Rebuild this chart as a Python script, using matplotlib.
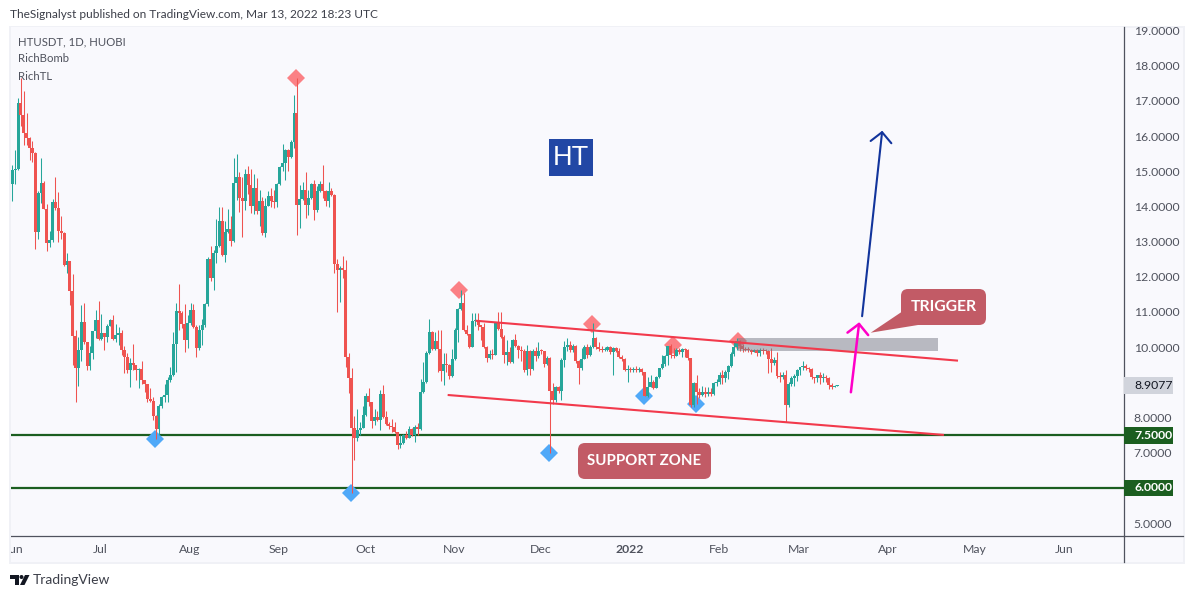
import matplotlib
matplotlib.use('Agg')
import matplotlib.pyplot as plt
import numpy as np
from matplotlib.patches import Rectangle, FancyBboxPatch, Polygon, Circle
from matplotlib.transforms import Affine2D, blended_transform_factory

plt.rcParams['font.family'] = ['Lato', 'DejaVu Sans']

# daily candles from 2021-06-01, each open is the previous close
first_open = 14.64
close = [15.03,15.06,16.94,16.6,16.09,15.94,15.66,15.52,13.27,14.38,
    14.66,13.93,12.96,13.05,14.12,13.95,13.30,13.24,12.34,12.45,
    11.6,10.32,9.41,9.92,10.72,10.15,9.47,9.84,10.46,10.77,
    10.23,10.4,10.29,10.6,10.77,10.23,10.35,10.4,9.92,9.72,
    9.35,9.55,9.49,9.35,9.38,9.07,8.95,8.53,8.47,8.05,
    7.68,8.33,8.59,8.64,9.07,9.21,10.09,11.03,10.97,10.66,
    10.2,10.69,11.06,10.57,9.98,10.49,10.63,11.23,12.51,11.97,
    12.68,12.88,13.59,12.62,13.27,13.36,13.02,14.66,14.84,14.24,
    14.15,14.92,14.61,14.01,14.52,13.87,14.15,13.24,14.01,14.3,
    14.15,14.12,14.64,15.12,15.23,15.6,15.4,15.83,16.65,14.04,
    14.21,14.47,14.04,14.24,14.64,13.9,14.44,14.64,14.44,14.15,
    14.44,14.32,12.36,12.2,12.25,12.19,9.72,9.13,7.7,7.42,
    7.65,7.7,8.07,8.61,8.44,7.9,8.02,7.93,8.67,8.02,
    7.82,7.76,7.74,7.59,7.22,7.28,7.5,7.42,7.68,7.5,
    7.73,7.68,8.73,9.01,9.84,10.43,9.95,10.18,9.95,9.32,
    9.52,9.5,9.18,9.66,10.49,11.09,11.26,10.49,10.38,10.0,
    10.74,10.77,10.63,10.58,10.0,9.69,9.81,9.78,10.69,10.52,
    10.29,9.78,9.86,9.58,10.2,10.03,9.92,9.9,9.36,9.9,
    9.38,9.88,9.75,9.9,9.88,9.52,9.69,8.76,8.5,8.87,
    8.76,9.64,10.0,10.05,9.92,10.04,9.6,9.41,9.66,10.0,
    9.78,10.0,10.25,10.01,9.94,9.92,9.92,10.0,9.87,9.97,
    9.89,9.73,9.67,9.35,9.38,9.35,9.38,9.35,9.37,9.29,
    8.61,8.88,9.02,8.83,9.14,9.4,9.51,9.75,10.03,9.78,
    9.76,9.92,9.85,9.94,9.92,9.68,8.36,8.97,8.74,8.64,
    8.72,8.66,8.72,8.68,8.97,9.02,9.21,9.12,9.3,9.46,
    9.81,10.01,10.18,10.02,9.94,9.93,9.92,9.87,9.92,9.83,
    9.92,9.89,9.88,9.67,9.54,9.64,9.18,9.16,9.21,8.36,
    8.95,9.12,9.18,9.35,9.43,9.46,9.42,9.37,9.14,9.13,
    9.2,9.12,9.14,9.12,8.93,8.87,8.9,8.9077]
high = [15.18,15.6,17.08,17.65,17.28,16.65,15.97,15.86,15.55,14.44,
    15.38,14.72,14.07,13.3,14.21,14.84,14.41,13.73,13.27,12.68,
    12.45,12.08,10.49,10.29,11.2,11.26,10.15,10.03,10.46,11.06,
    11.31,10.94,10.4,10.66,10.8,10.91,10.66,10.57,10.49,10.03,
    9.84,9.69,10.09,9.49,9.4,9.61,9.07,8.95,8.84,8.59,
    8.08,8.39,8.61,8.95,9.15,9.44,10.43,11.26,11.8,11.03,
    11.23,10.91,11.26,11.23,10.63,10.63,10.8,11.26,12.56,12.88,
    12.76,13.64,13.98,13.98,13.59,13.93,13.73,15.38,15.49,14.98,
    14.84,15.06,15.15,15.06,14.92,14.81,14.47,14.27,14.24,14.44,
    14.52,14.47,14.66,15.15,15.77,15.62,15.62,15.89,17.16,17.65,
    14.61,14.69,14.98,14.47,14.66,14.75,14.58,14.72,15.18,14.47,
    14.69,14.52,14.34,12.51,12.31,12.59,12.48,9.84,9.41,8.05,
    8.24,7.88,8.33,8.7,8.84,8.44,8.24,8.19,8.78,8.93,
    8.19,7.88,7.96,7.88,7.59,7.5,7.53,7.62,7.76,7.7,
    7.79,7.85,9.1,9.58,9.89,10.8,10.46,10.43,10.49,10.49,
    9.84,9.84,9.52,9.95,10.55,11.12,11.63,11.54,10.63,10.38,
    10.97,10.97,10.97,10.63,10.69,10.03,9.92,9.95,10.7,11.0,
    11.0,10.35,10.2,10.0,10.22,10.38,10.05,10.02,9.95,10.05,
    9.92,9.95,10.0,10.15,9.95,9.9,9.75,9.72,8.98,8.9,
    8.9,9.7,10.18,10.25,10.18,10.1,10.05,9.65,9.99,10.07,
    10.08,10.06,10.68,10.3,10.15,10.02,10.01,10.03,10.03,10.0,
    10.0,9.99,9.78,9.7,9.5,9.44,9.45,9.47,9.43,9.42,
    9.3,9.16,9.21,9.07,9.17,9.42,9.78,9.78,10.03,10.1,
    9.98,9.97,9.97,9.97,9.97,9.95,9.7,9.0,9.21,8.85,
    8.9,8.86,8.88,8.85,9.02,9.1,9.3,9.35,9.36,9.5,
    9.87,10.16,10.25,10.2,10.08,10.0,10.0,9.95,9.96,9.95,
    9.97,9.98,9.95,9.92,9.97,9.72,9.87,9.3,9.3,9.35,
    9.0,9.17,9.25,9.38,9.45,9.6,9.52,9.45,9.4,9.15,
    9.22,9.3,9.28,9.2,9.15,8.98,8.92,8.92]
low = [14.15,14.65,15.03,16.28,15.74,15.74,15.32,15.26,12.79,13.07,
    14.1,13.93,12.73,12.85,12.99,13.9,12.99,13.07,12.3,12.11,
    11.2,9.49,8.44,8.9,9.6,10.1,9.35,9.35,9.66,10.26,
    10.2,10.2,9.92,10.15,10.6,10.2,10.15,10.06,9.78,9.27,
    9.27,8.87,9.35,9.07,8.84,8.95,8.73,8.44,8.44,7.93,
    7.39,7.51,8.27,8.44,8.44,9.01,9.18,9.3,10.5,10.55,
    9.86,9.98,10.63,10.55,9.72,9.92,10.06,10.57,11.17,11.88,
    11.63,12.39,12.85,12.6,12.42,13.24,12.88,13.0,14.18,13.84,
    13.13,13.9,14.35,13.81,13.78,13.78,13.44,13.19,13.13,14.0,
    13.98,13.95,13.98,14.61,15.0,14.75,15.0,15.37,15.66,13.19,
    13.39,14.18,13.67,13.76,14.21,13.61,13.84,14.41,14.24,14.01,
    13.98,14.3,12.11,11.0,11.28,11.97,9.44,8.7,5.86,6.8,
    7.34,7.5,7.7,8.05,8.33,7.7,7.79,7.9,7.65,8.0,
    7.8,7.68,7.59,7.57,7.11,7.14,7.26,7.4,7.42,7.48,
    7.31,7.5,7.66,8.7,8.98,9.8,9.93,9.93,9.3,9.04,
    8.93,9.3,9.1,9.15,9.64,10.15,11.06,10.47,10.35,9.98,
    10.0,10.6,10.49,10.2,9.98,9.58,9.66,9.66,9.78,10.5,
    10.27,9.55,9.49,9.56,9.55,10.0,9.7,9.6,9.3,9.21,
    9.21,9.35,9.6,9.7,9.8,9.45,9.5,7.0,8.4,8.44,
    8.7,8.5,9.45,9.9,9.85,9.85,9.55,8.95,9.35,9.66,
    9.7,9.75,9.98,9.95,9.88,9.85,9.88,9.88,9.82,9.21,
    9.85,9.68,9.6,9.33,9.0,9.3,9.3,9.3,9.3,9.22,
    8.6,8.58,8.88,8.8,8.83,9.12,9.38,9.48,9.49,9.7,
    9.7,9.75,9.8,9.72,9.73,9.65,8.3,8.3,8.4,8.55,
    8.6,8.58,8.62,8.62,8.65,8.9,8.95,8.95,9.0,9.1,
    9.44,9.75,9.92,9.9,9.85,9.88,9.85,9.82,9.85,9.75,
    9.75,9.8,9.82,9.26,9.3,9.5,9.12,9.02,9.1,7.88,
    8.3,8.9,8.9,9.05,9.2,9.35,9.35,9.3,9.1,8.97,
    9.0,8.95,9.0,9.0,8.8,8.82,8.86,8.89]

# days counted from 2021-06-01
month_days = [0.7,30.7,61.7,92.7,122.7,153.7,183.7,214.7,245.7,273.7,304.7,334.7,366]
month_labels = ['Jun','Jul','Aug','Sep','Oct','Nov','Dec','2022','Feb','Mar','Apr','May','Jun']
price_ticks = [5,6,7,8,9,10,11,12,13,14,15,16,17,18,19]

top_days = [98.7,155.5,201.6,229.8,252.4]
top_prices = [17.65,11.63,10.66,10.06,10.18]
bottom_days = [49.6,117.8,186.7,219.7,237.8]
bottom_prices = [7.39,5.86,6.99,8.61,8.39]

upper_line_x = [161.5,328.6]
upper_line_y = [10.75,9.62]
lower_line_x = [151.8,323.7]
lower_line_y = [8.64,7.51]
levels = [7.5,6.0]
zone_x = [252.4,322.0]
zone_y = [9.89,10.26]
pink_arrow_x = [291.7,294.6]
pink_arrow_y = [8.72,10.71]
blue_arrow_x = [295.6,302.6]
blue_arrow_y = [10.88,16.15]

green = '#26a69a'
red = '#ef5350'
grey_text = '#50535e'
dark_green = '#1b5e20'
label_red = '#c25b66'

# pixel coordinates of the picture, y going down
px = Affine2D().scale(1,-1).translate(0,598)

fig = plt.figure(figsize=(11.94,5.98), dpi=100, facecolor='white')
ax = fig.add_axes([11/1194,(598-536)/598,1113/1194,509/598])
ax.set_facecolor('#f9f9fd')
ax.set_xlim(-0.45,386.7)
ax.set_ylim(4.636,19.097)

# panel behind and around the axes
fig.add_artist(Rectangle((9,26),1176,538,transform=px,fc='#f0f1f6',ec='none',zorder=-2))
fig.add_artist(Rectangle((1124,28),59,534,transform=px,fc='#f9f9fd',ec='none',zorder=-1))
fig.add_artist(Rectangle((11,536),1172,26,transform=px,fc='#f9f9fd',ec='none',zorder=-1))

days = np.arange(len(close))
closes = np.array(close)
opens = np.concatenate(([first_open],closes[:-1]))
highs = np.array(high)
lows = np.array(low)
up = closes >= opens

for level in levels:
    ax.axhline(level,color=dark_green,lw=1.6,zorder=2)

ax.plot(top_days,top_prices,'D',color='#fb8085',ms=9.4,mew=0,zorder=2.5)
ax.plot(bottom_days,bottom_prices,'D',color='#50a9f8',ms=9.4,mew=0,zorder=2.5)

ax.vlines(days[up],lows[up],highs[up],color=green,lw=0.75,capstyle='butt',zorder=3)
ax.vlines(days[~up],lows[~up],highs[~up],color=red,lw=0.75,capstyle='butt',zorder=3.1)
body = np.maximum(np.abs(closes-opens),0.03)
ax.bar(days[up],body[up],bottom=np.minimum(opens,closes)[up],width=1.04,color=green,zorder=3.2)
ax.bar(days[~up],body[~up],bottom=np.minimum(opens,closes)[~up],width=1.04,color=red,zorder=3.3)

ax.add_patch(Rectangle((zone_x[0],zone_y[0]),zone_x[1]-zone_x[0],zone_y[1]-zone_y[0],
    fc='#787b86',alpha=0.5,ec='none',zorder=4))
ax.plot(upper_line_x,upper_line_y,color='#f23a4c',lw=1.5,zorder=5)
ax.plot(lower_line_x,lower_line_y,color='#f23a4c',lw=1.5,zorder=5)

ax.annotate('',xy=(pink_arrow_x[1],pink_arrow_y[1]),xytext=(pink_arrow_x[0],pink_arrow_y[0]),zorder=6,
    arrowprops=dict(arrowstyle='->,head_length=0.72,head_width=0.75',color='#ff00c8',lw=1.8,
        shrinkA=0,shrinkB=0,mutation_scale=10))
ax.annotate('',xy=(blue_arrow_x[1],blue_arrow_y[1]),xytext=(blue_arrow_x[0],blue_arrow_y[0]),zorder=6,
    arrowprops=dict(arrowstyle='->,head_length=0.72,head_width=0.75',color='#12349c',lw=1.5,
        shrinkA=0,shrinkB=0,mutation_scale=10))

# text boxes drawn on the chart
ax.add_patch(FancyBboxPatch((584,449),121,24,boxstyle='round,pad=6,rounding_size=7',transform=px,
    fc=label_red,ec='none',zorder=7))
ax.text(644.5,461,'SUPPORT ZONE',transform=px,color='white',fontsize=10.8,fontweight='bold',
    ha='center',va='center',zorder=8)
ax.add_patch(FancyBboxPatch((907,295),73,24,boxstyle='round,pad=6,rounding_size=7',transform=px,
    fc=label_red,ec='none',zorder=7))
ax.add_patch(Polygon([(870.7,332.7),(903,311),(918,325)],closed=True,transform=px,
    fc=label_red,ec='none',zorder=7))
ax.text(943.5,307,'TRIGGER',transform=px,color='white',fontsize=11.3,fontweight='bold',
    ha='center',va='center',zorder=8)
ax.add_patch(Rectangle((549,139),44,37,transform=px,fc='#2247a5',ec='none',zorder=7))
ax.text(571,158,'HT',transform=px,color='white',fontsize=19.5,family='Liberation Sans',
    ha='center',va='center',zorder=8)

# axes look
for side in ['left','top']:
    ax.spines[side].set_visible(False)
ax.spines['right'].set_color(grey_text)
ax.spines['bottom'].set_color(grey_text)
ax.spines['right'].set_linewidth(0.9)
ax.spines['bottom'].set_linewidth(0.9)
ax.set_xticks(month_days)
ax.set_xticklabels(month_labels,fontsize=8.8,color=grey_text)
ax.get_xticklabels()[7].set_fontweight('bold')
ax.tick_params(axis='x',length=0,pad=6)
ax.yaxis.tick_right()
ax.set_yticks(price_ticks)
ax.set_yticklabels(['%.4f' % p for p in price_ticks],fontsize=8.8,color=grey_text)
ax.tick_params(axis='y',length=0,pad=7)
ax.grid(False)

fig.add_artist(plt.Line2D([1124,1124],[536,562],transform=px,color=grey_text,lw=0.9))
fig.add_artist(plt.Line2D([1124,1183],[536,536],transform=px,color=grey_text,lw=0.9))

# cover what sticks out left of the panel (the first Jun label)
fig.add_artist(Rectangle((9,530),2,34,transform=px,fc='#f0f1f6',ec='none',zorder=1))
fig.add_artist(Rectangle((0,530),9,34,transform=px,fc='white',ec='none',zorder=1))

# price tags
tags = blended_transform_factory(ax.transAxes,ax.transData)
tag_values = [8.9077,7.5,6.0]
tag_colors = ['#d1d4dc',dark_green,dark_green]
tag_text = ['#131722','white','white']
tag_weight = ['normal','bold','bold']
for v,c,t,w in zip(tag_values,tag_colors,tag_text,tag_weight):
    ax.add_patch(Rectangle((1.0,v-0.24),0.044,0.48,transform=tags,fc=c,ec='none',clip_on=False,zorder=9))
    ax.text(1.0092,v,'%.4f' % v,transform=tags,color=t,fontsize=8.8,fontweight=w,va='center',ha='left',
        clip_on=False,zorder=10)

# header and legend text
fig.text(10/1194,1-14/598,'TheSignalyst published on TradingView.com, Mar 13, 2022 18:23 UTC',
    fontsize=8.55,color='#3c3f49',va='center',ha='left')
for y,s in zip([42,59,76],['HTUSDT, 1D, HUOBI','RichBomb','RichTL']):
    fig.text(18/1194,1-y/598,s,fontsize=8.2,color=grey_text,va='center',ha='left',zorder=5)

# footer logo
logo = '#131722'
fig.add_artist(Polygon([(10,575),(19,575),(19,585),(15,585),(15,579),(10,579)],closed=True,transform=px,fc=logo,ec='none'))
fig.add_artist(Circle((21.5,577),2,transform=px,fc=logo,ec='none'))
fig.add_artist(Polygon([(25,575),(29.5,575),(24.5,585),(20,585)],closed=True,transform=px,fc=logo,ec='none'))
fig.text(33/1194,1-580.5/598,'TradingView',fontsize=10,color='#3c3f49',va='center',ha='left')

fig.savefig('out.png',dpi=100,facecolor='white')
